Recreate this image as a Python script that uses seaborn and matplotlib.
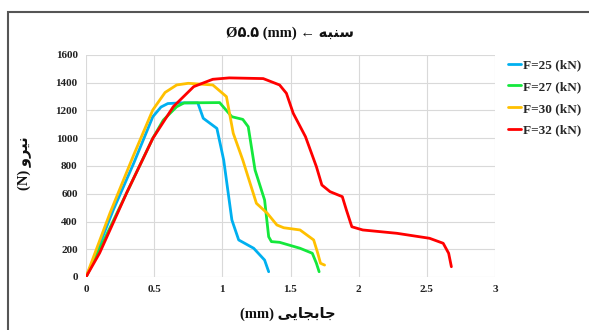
import matplotlib
matplotlib.use("Agg")
import matplotlib.pyplot as plt
import seaborn as sns
import pandas as pd
from matplotlib.patches import Rectangle

# ---- data ----
labels = ["F=25 (kN)", "F=27 (kN)", "F=30 (kN)", "F=32 (kN)"]

x25 = [0, 0.05, 0.2, 0.35, 0.49, 0.55, 0.60, 0.70, 0.82, 0.86, 0.96, 1.01, 1.07, 1.12, 1.23, 1.31, 1.34]
y25 = [0, 110, 483, 820, 1155, 1225, 1250, 1255, 1255, 1144, 1071, 843, 411, 267, 207, 122, 38]

x27 = [0, 0.1, 0.3, 0.49, 0.567, 0.665, 0.72, 0.98, 1.07, 1.15, 1.19, 1.24, 1.31, 1.34, 1.36, 1.42, 1.57, 1.66, 1.69, 1.71]
y27 = [0, 200, 610, 1000, 1131, 1227, 1255, 1257, 1155, 1136, 1083, 771, 555, 290, 255, 250, 207, 171, 99, 38]

x30 = [0, 0.176, 0.35, 0.49, 0.58, 0.665, 0.75, 0.93, 1.03, 1.08, 1.15, 1.25, 1.33, 1.40, 1.45, 1.57, 1.67, 1.70, 1.72, 1.75]
y30 = [0, 461, 880, 1204, 1330, 1384, 1396, 1384, 1300, 1036, 843, 531, 459, 375, 355, 339, 267, 171, 99, 86]

x32 = [0, 0.10, 0.3, 0.49, 0.64, 0.79, 0.93, 1.05, 1.3, 1.42, 1.47, 1.52, 1.61, 1.69, 1.73, 1.79, 1.88, 1.91, 1.95, 2.03, 2.28, 2.52, 2.62, 2.66, 2.68]
y32 = [0, 173, 610, 999, 1227, 1372, 1425, 1435, 1430, 1384, 1324, 1180, 1011, 795, 663, 615, 579, 483, 362, 339, 315, 279, 243, 171, 74]

xticks = [0, 0.5, 1, 1.5, 2, 2.5, 3]
xticklabels = ["0", "0.5", "1", "1.5", "2", "2.5", "3"]
yticks = [0, 200, 400, 600, 800, 1000, 1200, 1400, 1600]

# Persian text in visual (presentation-form) order
title_text = "\u00D8\u06F5.\u06F5 (mm) \u2190 \uFEEA\uFE92\uFEE8\uFEB3"
xlabel_text = "(mm) \uFEF0\uFEF3\uFE8E\uFEA0\uFE91\uFE8E\uFE9F"
ylabel_text = "(N) \uFEED\uFEAE\uFEF4\uFEE7"

colors = ["#00B0F0", "#14E83C", "#FFC000", "#FF0000"]

frames = []
for lab, xs, ys in zip(labels, [x25, x27, x30, x32], [y25, y27, y30, y32]):
    frames.append(pd.DataFrame({"x": xs, "y": ys, "series": lab}))
df = pd.concat(frames, ignore_index=True)

sns.set_theme(style="white")
fam = ["Liberation Serif", "DejaVu Sans"]
plt.rcParams["font.family"] = fam
plt.rcParams["font.weight"] = "bold"

fig = plt.figure(figsize=(5.89, 3.30), dpi=100)
fig.patch.set_facecolor("white")
ax = fig.add_axes([86/589, 1-277/330, (495-86)/589, (277-55)/330])

sns.lineplot(data=df, x="x", y="y", hue="series", hue_order=labels,
             palette=colors, sort=False, estimator=None, linewidth=2.0, ax=ax)

ax.set_xlim(0, 3)
ax.set_ylim(0, 1600)
ax.set_xticks(xticks)
ax.set_xticklabels(xticklabels)
ax.set_yticks(yticks)
ax.grid(True, color="#D9D9D9", linewidth=0.8)
ax.set_axisbelow(True)
for s in ax.spines.values():
    s.set_visible(False)
ax.tick_params(axis="both", length=0, labelsize=8, pad=6)
for t in ax.get_xticklabels() + ax.get_yticklabels():
    t.set_fontweight("bold")
    t.set_color("#222222")

ax.set_xlabel("")
ax.set_ylabel("")
fig.text(288/589, 1-314/330, xlabel_text, ha="center", va="center",
         fontsize=10.5, fontweight="bold", family=fam, color="#111111")
fig.text(25/589, 1-163/330, ylabel_text, ha="center", va="center", rotation=90,
         fontsize=10.5, fontweight="bold", family=fam, color="#111111")
fig.text(290/589, 1-33/330, title_text, ha="center", va="center",
         fontsize=10.5, fontweight="bold", family=fam, color="#111111")

leg = ax.legend(loc="upper left", bbox_to_anchor=(1.003, 1.035), frameon=False,
                handlelength=1.0, handletextpad=0.1, labelspacing=0.72,
                prop={"family": fam, "weight": "bold", "size": 9.5})
for line in leg.get_lines():
    line.set_linewidth(2.0)

# outer chart frame
fig.add_artist(Rectangle((8/589, -0.05), 1.0, (1-12/330) + 0.05,
                         transform=fig.transFigure, fill=False,
                         edgecolor="#555555", linewidth=1.5))

fig.savefig("out.png", dpi=100)
